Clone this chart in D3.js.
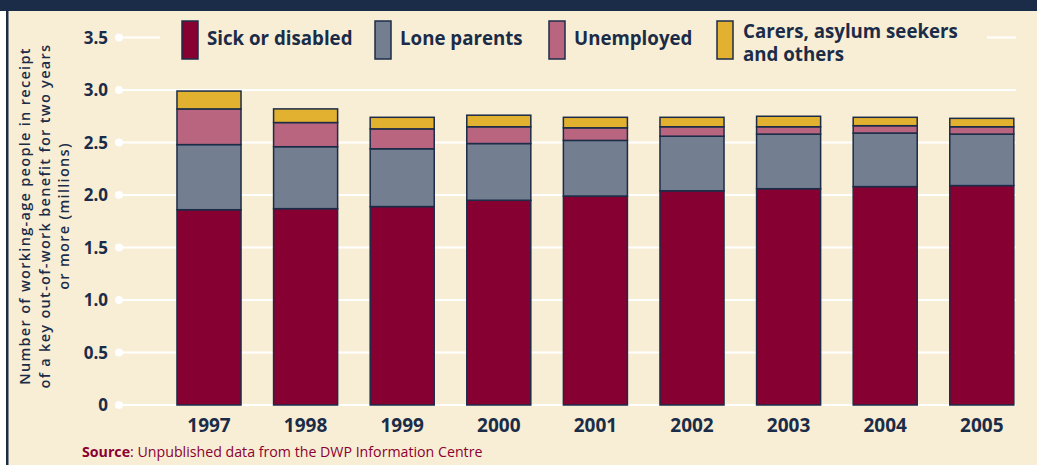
<!DOCTYPE html>
<html>
<head>
<meta charset="utf-8">
<script src="https://cdn.jsdelivr.net/npm/d3@7"></script>
<style>
  body { margin: 0; background: #ffffff; }
  svg { display: block; font-family: "Open Sans", sans-serif; }
</style>
</head>
<body>
<div id="chart"></div>
<script>
// data (millions)
var years = ["1997", "1998", "1999", "2000", "2001", "2002", "2003", "2004", "2005"];
var sick = [1.86, 1.87, 1.89, 1.95, 1.99, 2.04, 2.06, 2.08, 2.09];
var lone = [0.62, 0.59, 0.55, 0.54, 0.53, 0.52, 0.52, 0.51, 0.49];
var unemployed = [0.34, 0.23, 0.19, 0.16, 0.12, 0.09, 0.07, 0.07, 0.07];
var carers = [0.17, 0.13, 0.11, 0.11, 0.10, 0.09, 0.10, 0.08, 0.08];
var seriesNames = ["Sick or disabled", "Lone parents", "Unemployed", "Carers, asylum seekers and others"];
var yTicks = [0, 0.5, 1.0, 1.5, 2.0, 2.5, 3.0, 3.5];

var colors = ["#870032", "#737f91", "#b9657f", "#e3b130"];
var navy = "#1b2c48";
var cream = "#f8eed5";

var W = 1037, H = 465;

var svg = d3.select("#chart").append("svg")
  .attr("width", W)
  .attr("height", H);

// panel
svg.append("rect").attr("x", 7).attr("y", 0).attr("width", W - 7).attr("height", H).attr("fill", cream);
svg.append("rect").attr("x", 0).attr("y", 0).attr("width", W).attr("height", 11).attr("fill", navy);
svg.append("rect").attr("x", 6).attr("y", 0).attr("width", 2.5).attr("height", H).attr("fill", navy);

var table = years.map(function(y, i) {
  return {year: y, s0: sick[i], s1: lone[i], s2: unemployed[i], s3: carers[i]};
});
var stack = d3.stack().keys(["s0", "s1", "s2", "s3"]);
var layers = stack(table);

var x = d3.scaleBand()
  .domain(years)
  .range([160.7, 1030.1])
  .paddingInner(0.337)
  .paddingOuter(0.1685);

var y = d3.scaleLinear()
  .domain([0, 3.5])
  .range([405, 37.5]);

// gridlines
var grid = svg.append("g");
grid.selectAll("line").data(yTicks).enter().append("line")
  .attr("x1", 119).attr("x2", 1016)
  .attr("y1", d => y(d)).attr("y2", d => y(d))
  .attr("stroke", "#ffffff").attr("stroke-width", 2);
grid.selectAll("circle").data(yTicks).enter().append("circle")
  .attr("cx", 119).attr("cy", d => y(d)).attr("r", 4)
  .attr("fill", "#ffffff");

// y axis labels
var yAxis = d3.axisLeft(y)
  .tickValues(yTicks)
  .tickSize(0)
  .tickPadding(0)
  .tickFormat(d => d === 0 ? "0" : d3.format(".1f")(d));
var yg = svg.append("g")
  .attr("transform", "translate(108,0)")
  .call(yAxis);
yg.select(".domain").remove();
yg.selectAll("text")
  .attr("fill", navy)
  .attr("font-size", 17)
  .attr("font-weight", "bold")
  .attr("font-family", "'Open Sans', sans-serif")
  .attr("dy", "0.35em");

// legend box covering top gridline
svg.append("rect").attr("x", 160).attr("y", 15).attr("width", 827).attr("height", 50).attr("fill", cream);

// bars
svg.append("g").selectAll("g").data(layers).enter().append("g")
  .attr("fill", (d, i) => colors[i])
  .selectAll("rect").data(d => d).enter().append("rect")
  .attr("x", d => x(d.data.year))
  .attr("width", x.bandwidth())
  .attr("y", d => y(d[1]))
  .attr("height", d => y(d[0]) - y(d[1]))
  .attr("stroke", navy)
  .attr("stroke-width", 1.5);

// x axis labels
var xAxis = d3.axisBottom(x).tickSize(0).tickPadding(0);
var xg = svg.append("g")
  .attr("transform", "translate(0,432)")
  .call(xAxis);
xg.select(".domain").remove();
xg.selectAll("text")
  .attr("fill", navy)
  .attr("font-size", 19)
  .attr("font-weight", "bold")
  .attr("font-family", "'Open Sans', sans-serif")
  .attr("dy", 0);

// legend
var legendX = [182, 375, 549, 717];
var legend = svg.append("g");
seriesNames.forEach(function(name, i) {
  legend.append("rect")
    .attr("x", legendX[i]).attr("y", 21)
    .attr("width", 16).attr("height", 38)
    .attr("fill", colors[i])
    .attr("stroke", navy).attr("stroke-width", 1.5);
  var t = legend.append("text")
    .attr("x", legendX[i] + 25)
    .attr("fill", navy)
    .attr("font-size", 18.7)
    .attr("font-weight", "bold");
  if (i === 3) {
    t.append("tspan").attr("x", legendX[i] + 26).attr("y", 38).text("Carers, asylum seekers");
    t.append("tspan").attr("x", legendX[i] + 26).attr("y", 61).text("and others");
  } else {
    t.attr("y", 45).text(name);
  }
});

// y title
var titleLines = [
  "Number of working-age people in receipt",
  "of a key out-of-work benefit for two years",
  "or more (millions)"
];
var yt = svg.append("text")
  .attr("transform", "translate(30,216) rotate(-90)")
  .attr("text-anchor", "middle")
  .attr("fill", navy)
  .attr("font-size", 14.5)
  .attr("font-weight", 600)
  .attr("letter-spacing", 1.3);
titleLines.forEach(function(l, i) {
  yt.append("tspan").attr("x", 0).attr("y", i * 19.5).text(l);
});

// source
var src = svg.append("text")
  .attr("x", 82).attr("y", 457)
  .attr("fill", "#8a0032")
  .attr("font-size", 14.2);
src.append("tspan").attr("font-weight", "bold").text("Source");
src.append("tspan").text(": Unpublished data from the DWP Information Centre");
</script>
</body>
</html>
